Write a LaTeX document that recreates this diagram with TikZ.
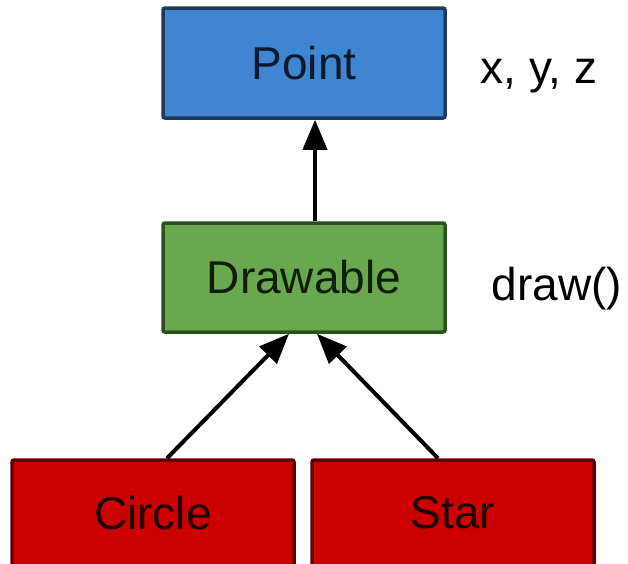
\documentclass[tikz,border=0pt]{standalone}
\usepackage{fontspec}
\setmainfont{Liberation Sans}
\usetikzlibrary{arrows.meta}
\definecolor{ptfill}{HTML}{3F85CF}
\definecolor{ptdraw}{HTML}{1D3A5C}
\definecolor{pttext}{HTML}{0B1A2E}
\definecolor{drfill}{HTML}{6AA84F}
\definecolor{drdraw}{HTML}{2C521C}
\definecolor{drtext}{HTML}{0E1E08}
\definecolor{shfill}{HTML}{CC0000}
\definecolor{shdraw}{HTML}{5E0000}
\definecolor{shtext}{HTML}{1E0000}
\begin{document}
\begin{tikzpicture}[x=1pt,y=-1pt,
  box/.style={rectangle, rounded corners=2pt, line width=3.5pt,
    minimum width=282pt, inner sep=0pt,
    font=\fontsize{46}{50}\selectfont},
  pointbox/.style={box, fill=ptfill, draw=ptdraw, text=pttext, minimum height=110pt},
  drawbox/.style={box, fill=drfill, draw=drdraw, text=drtext, minimum height=109pt},
  shapebox/.style={box, fill=shfill, draw=shdraw, text=shtext, minimum height=106pt},
  note/.style={anchor=base, inner sep=0pt, font=\fontsize{46}{50}\selectfont},
  inherit/.style={line width=4pt, -{Triangle[length=30pt,width=24pt]}}]
  \useasboundingbox (0,0) rectangle (628,563);
  \fill[white] (0,0) rectangle (628,563);

  % class boxes
  \node[pointbox] (pt) at (304,63) {Point};
  \node[drawbox]  (dr) at (304,277.5) {Drawable};
  \node[shapebox] (ci) at (153,513) {Circle};
  \node[shapebox] (st) at (453,513) {Star};

  % members of each class
  \node[note] (ptm) at (539,83) {x, y, z};
  \node[note] (drm) at (557,300) {draw()};

  % inheritance arrows
  \draw[inherit] ([xshift=11pt]dr.north) -- ([xshift=11pt]pt.south);
  \draw[inherit] ([xshift=14pt]ci.north) -- ([xshift=-15pt]dr.south);
  \draw[inherit] ([xshift=-15pt]st.north) -- ([xshift=13pt]dr.south);
\end{tikzpicture}
\end{document}
